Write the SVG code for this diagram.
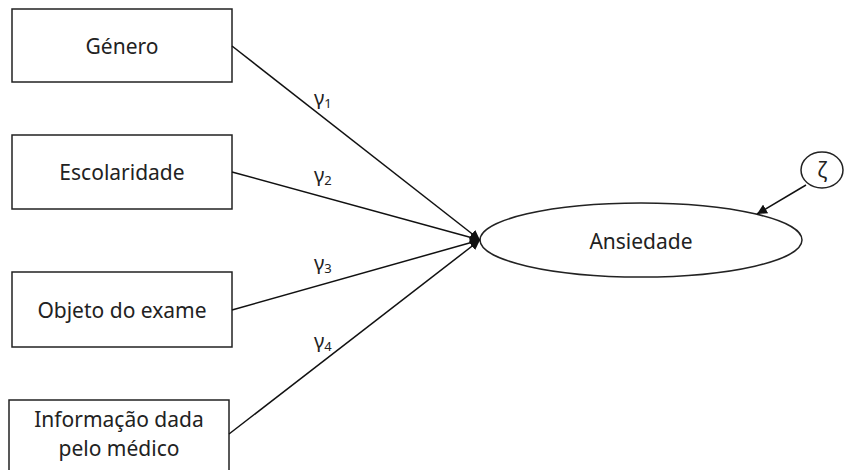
<svg xmlns="http://www.w3.org/2000/svg" width="844" height="470" viewBox="0 0 844 470">
<defs>
<style>
.box{fill:#fff;stroke:#222;stroke-width:1.5}
.lbl{font-family:"Noto Sans","Open Sans",sans-serif;font-size:21px;fill:#222;text-anchor:middle;dominant-baseline:central}
.g{font-family:"Noto Sans","Open Sans",sans-serif;font-size:20px;fill:#222}
.sub{font-size:13px}
.con{stroke:#111;stroke-width:1.5;fill:none;marker-end:url(#ah)}
</style>
<marker id="ah" viewBox="0 0 10 10" refX="10" refY="5" markerWidth="10" markerHeight="10" markerUnits="userSpaceOnUse" orient="auto">
<path d="M0,0 L10,5 L0,10 z" fill="#111"/>
</marker>
</defs>
<rect width="844" height="470" fill="#fff"/>
<g id="genero"><rect class="box" x="12" y="9" width="220" height="73"/><text class="lbl" x="122" y="46">Género</text></g>
<g id="escolaridade"><rect class="box" x="12" y="135" width="220" height="74"/><text class="lbl" x="122" y="172">Escolaridade</text></g>
<g id="objeto"><rect class="box" x="12" y="272" width="220" height="75"/><text class="lbl" x="122" y="310">Objeto do exame</text></g>
<g id="informacao"><rect class="box" x="9" y="400" width="220" height="80"/><text class="lbl" x="119" y="419">Informação dada</text><text class="lbl" x="119" y="448">pelo médico</text></g>
<g id="ansiedade"><ellipse class="box" cx="641" cy="240" rx="161" ry="37"/><text class="lbl" x="641" y="241">Ansiedade</text></g>
<g id="zeta"><ellipse class="box" cx="822" cy="170" rx="21" ry="18"/><text class="lbl" x="822" y="170">ζ</text></g>
<g id="connectors">
<line class="con" x1="232" y1="46" x2="480" y2="240"/>
<line class="con" x1="232" y1="172" x2="480" y2="240"/>
<line class="con" x1="232" y1="310" x2="480" y2="240"/>
<line class="con" x1="229" y1="434" x2="480" y2="240"/>
<line class="con" x1="806" y1="185" x2="757" y2="214"/>
<text class="g" x="314" y="105">γ<tspan class="sub" dy="3">1</tspan></text>
<text class="g" x="314" y="182">γ<tspan class="sub" dy="3">2</tspan></text>
<text class="g" x="314" y="270">γ<tspan class="sub" dy="3">3</tspan></text>
<text class="g" x="314" y="348">γ<tspan class="sub" dy="3">4</tspan></text>
</g>
</svg>
